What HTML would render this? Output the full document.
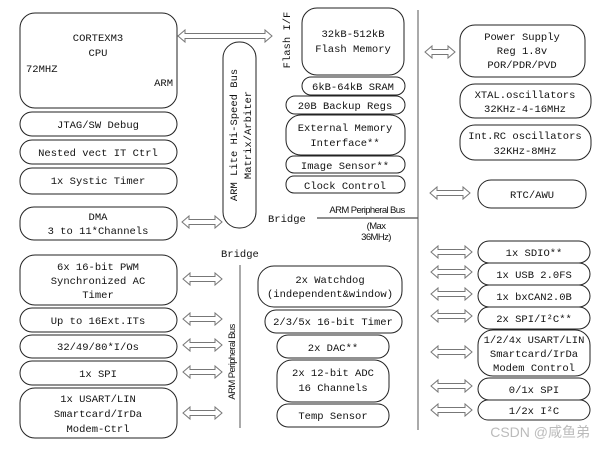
<!DOCTYPE html>
<html><head><meta charset="utf-8"><style>
body{margin:0;background:#fff}
svg{display:block}
text{font-family:"Liberation Mono","Noto Sans CJK SC",monospace;font-size:10.5px;fill:#111}
.b{fill:#fff;stroke:#222;stroke-width:1}
.s{font-family:"Liberation Sans",sans-serif;font-size:9.5px;letter-spacing:-0.6px}
.a{fill:#fff;stroke:#777;stroke-width:1}
</style></head><body>
<svg id="s" width="605" height="450" viewBox="0 0 605 450" xmlns="http://www.w3.org/2000/svg">
<g id="arrows"></g>
<rect class="b" x="20" y="13" width="157" height="95" rx="15"/>
<text x="98" y="41" text-anchor="middle">CORTEXM3</text>
<text x="98" y="56" text-anchor="middle">CPU</text>
<text x="26" y="72">72MHZ</text>
<text x="173" y="86" text-anchor="end">ARM</text>
<rect class="b" x="20" y="112" width="157" height="24" rx="12"/><text x="98" y="128" text-anchor="middle">JTAG/SW Debug</text>
<rect class="b" x="20" y="140" width="157" height="24" rx="12"/><text x="98" y="156" text-anchor="middle">Nested vect IT Ctrl</text>
<rect class="b" x="20" y="168" width="157" height="26" rx="12"/><text x="98" y="184" text-anchor="middle">1x Systic Timer</text>
<rect class="b" x="20" y="207" width="157" height="33" rx="14"/><text x="98" y="220" text-anchor="middle">DMA</text><text x="98" y="234" text-anchor="middle">3 to 11*Channels</text>
<rect class="b" x="223" y="42" width="33" height="186" rx="16"/>
<text transform="translate(237,135) rotate(-90)" text-anchor="middle">ARM Lite Hi-Speed Bus</text>
<text transform="translate(251,135) rotate(-90)" text-anchor="middle">Matrix/Arbiter</text>
<text x="221" y="257">Bridge</text>
<line x1="240" y1="265" x2="240" y2="428" stroke="#555"/>
<text class="s" transform="translate(235,362) rotate(-90)" text-anchor="middle">ARM Peripheral Bus</text>
<rect class="b" x="20" y="255" width="157" height="50" rx="15"/><text x="98" y="270" text-anchor="middle">6x 16-bit PWM</text><text x="98" y="284" text-anchor="middle">Synchronized AC</text><text x="98" y="298" text-anchor="middle">Timer</text>
<rect class="b" x="20" y="308" width="157" height="24" rx="12"/><text x="98" y="324" text-anchor="middle">Up to 16Ext.ITs</text>
<rect class="b" x="20" y="335" width="157" height="23" rx="12"/><text x="98" y="350" text-anchor="middle">32/49/80*I/Os</text>
<rect class="b" x="20" y="361" width="157" height="24" rx="12"/><text x="98" y="377" text-anchor="middle">1x SPI</text>
<rect class="b" x="20" y="388" width="157" height="50" rx="15"/><text x="98" y="402" text-anchor="middle">1x USART/LIN</text><text x="98" y="417" text-anchor="middle">Smartcard/IrDa</text><text x="98" y="432" text-anchor="middle">Modem-Ctrl</text>
<text transform="translate(290,40) rotate(-90)" text-anchor="middle">Flash I/F</text>
<rect class="b" x="302" y="8" width="102" height="67" rx="15"/><text x="353" y="37" text-anchor="middle">32kB-512kB</text><text x="353" y="52" text-anchor="middle">Flash Memory</text>
<rect class="b" x="302" y="77" width="103" height="18" rx="9"/><text x="353" y="90" text-anchor="middle">6kB-64kB SRAM</text>
<rect class="b" x="286" y="96" width="119" height="18" rx="9"/><text x="345" y="109" text-anchor="middle">20B Backup Regs</text>
<rect class="b" x="286" y="115" width="119" height="40" rx="15"/><text x="345" y="131" text-anchor="middle">External Memory</text><text x="345" y="146" text-anchor="middle">Interface**</text>
<rect class="b" x="286" y="156" width="119" height="17" rx="8"/><text x="345" y="169" text-anchor="middle">Image Sensor**</text>
<rect class="b" x="286" y="176" width="119" height="17" rx="8"/><text x="345" y="189" text-anchor="middle">Clock Control</text>
<text x="268" y="222">Bridge</text>
<line x1="317" y1="218" x2="418" y2="218" stroke="#222"/>
<text class="s" x="367" y="213" text-anchor="middle">ARM Peripheral Bus</text>
<text class="s" x="376" y="229" text-anchor="middle">(Max</text>
<text class="s" x="376" y="240" text-anchor="middle">36MHz)</text>
<line x1="418" y1="10" x2="418" y2="430" stroke="#555"/>
<rect class="b" x="258" y="266" width="144" height="41" rx="16"/><text x="330" y="283" text-anchor="middle">2x Watchdog</text><text x="330" y="297" text-anchor="middle">(independent&amp;window)</text>
<rect class="b" x="265" y="310" width="137" height="23" rx="11"/><text x="333" y="325" text-anchor="middle">2/3/5x 16-bit Timer</text>
<rect class="b" x="277" y="335" width="112" height="23" rx="11"/><text x="333" y="351" text-anchor="middle">2x DAC**</text>
<rect class="b" x="277" y="360" width="112" height="42" rx="15"/><text x="333" y="376" text-anchor="middle">2x 12-bit ADC</text><text x="333" y="391" text-anchor="middle">16 Channels</text>
<rect class="b" x="277" y="404" width="112" height="23" rx="11"/><text x="333" y="419" text-anchor="middle">Temp Sensor</text>
<rect class="b" x="460" y="25" width="125" height="52" rx="15"/><text x="522" y="40" text-anchor="middle">Power Supply</text><text x="522" y="54" text-anchor="middle">Reg 1.8v</text><text x="522" y="68" text-anchor="middle">POR/PDR/PVD</text>
<rect class="b" x="460" y="84" width="131" height="34" rx="15"/><text x="525" y="98" text-anchor="middle">XTAL.oscillators</text><text x="525" y="112" text-anchor="middle">32KHz-4-16MHz</text>
<rect class="b" x="460" y="125" width="131" height="35" rx="15"/><text x="525" y="139" text-anchor="middle">Int.RC oscillators</text><text x="525" y="154" text-anchor="middle">32KHz-8MHz</text>
<rect class="b" x="478" y="180" width="108" height="28" rx="13"/><text x="532" y="198" text-anchor="middle">RTC/AWU</text>
<rect class="b" x="478" y="241" width="112" height="22" rx="11"/><text x="534" y="256" text-anchor="middle">1x SDIO**</text>
<rect class="b" x="478" y="263" width="112" height="22" rx="11"/><text x="534" y="278" text-anchor="middle">1x USB 2.0FS</text>
<rect class="b" x="478" y="285" width="112" height="22" rx="11"/><text x="534" y="300" text-anchor="middle">1x bxCAN2.0B</text>
<rect class="b" x="478" y="307" width="112" height="22" rx="11"/><text x="534" y="322" text-anchor="middle">2x SPI/I²C**</text>
<rect class="b" x="478" y="330" width="112" height="46" rx="15"/><text x="534" y="343" text-anchor="middle">1/2/4x USART/LIN</text><text x="534" y="357" text-anchor="middle">Smartcard/IrDa</text><text x="534" y="371" text-anchor="middle">Modem Control</text>
<rect class="b" x="478" y="378" width="112" height="22" rx="11"/><text x="534" y="393" text-anchor="middle">0/1x SPI</text>
<rect class="b" x="478" y="400" width="112" height="20" rx="10"/><text x="534" y="414" text-anchor="middle">1/2x I²C</text>
<text x="590" y="437" text-anchor="end" style="font-family:'Liberation Sans','Noto Sans CJK SC',sans-serif;font-size:14px;fill:#bbb">CSDN @咸鱼弟</text>
</svg>
<script>
var A=[[178,272,36],[182,222,222],[425,455,52],[430,470,193],[183,222,279],[183,222,319],[183,222,345],[183,222,372],[183,222,413],
[431,472,252],[431,472,272],[431,472,294],[431,472,316],[431,472,352],[431,472,386],[431,472,410]];
var g=document.getElementById('arrows'),h='';
A.forEach(function(a){var x1=a[0],x2=a[1],y=a[2];
h+='<path class="a" d="M'+x1+' '+y+' L'+(x1+7)+' '+(y-6)+' L'+(x1+7)+' '+(y-2.5)+' L'+(x2-7)+' '+(y-2.5)+' L'+(x2-7)+' '+(y-6)+' L'+x2+' '+y+' L'+(x2-7)+' '+(y+6)+' L'+(x2-7)+' '+(y+2.5)+' L'+(x1+7)+' '+(y+2.5)+' L'+(x1+7)+' '+(y+6)+' Z"/>';});
g.innerHTML=h;
</script>
</body></html>
